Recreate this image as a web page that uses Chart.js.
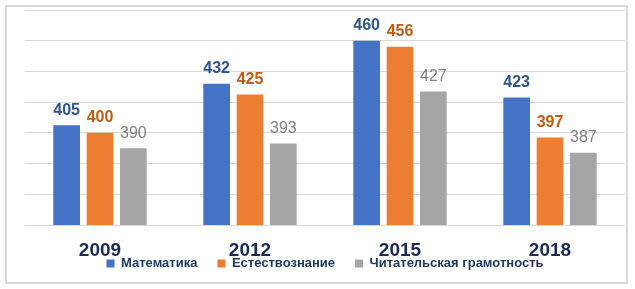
<!DOCTYPE html>
<html>
<head>
<meta charset="utf-8">
<script src="https://cdn.jsdelivr.net/npm/chart.js@4"></script>
<style>
    html, body { margin: 0; padding: 0; background: #fff; }
    #wrap { position: relative; width: 635px; height: 289px; }
    #frame { position: absolute; left: 5px; top: 5px; width: 619px; height: 275px; border: 2px solid #d9d9d9; }
    #pisaChart { position: absolute; left: 0; top: 0; }
</style>
</head>
<body>
<div id="wrap">
    <div id="frame"></div>
    <canvas id="pisaChart" width="635" height="289"></canvas>
</div>
<script>
const years = ['2009', '2012', '2015', '2018'];
const seriesNames = ['Математика', 'Естествознание', 'Читательская грамотность'];
const mathScores = [405, 432, 460, 423];
const scienceScores = [400, 425, 456, 397];
const readingScores = [390, 393, 427, 387];
const yMin = 340;
const yMax = 480;
const yStep = 20;

// values above each bar
const valueLabels = {
    id: 'valueLabels',
    afterDatasetsDraw(chart) {
        const ctx = chart.ctx;
        chart.data.datasets.forEach((ds, i) => {
            const meta = chart.getDatasetMeta(i);
            ctx.save();
            ctx.font = ds.labelFont;
            ctx.fillStyle = ds.labelColor;
            ctx.textAlign = 'center';
            ctx.textBaseline = 'bottom';
            meta.data.forEach((bar, j) => {
                ctx.fillText(String(ds.data[j]), bar.x, bar.y - 7);
            });
            ctx.restore();
        });
    }
};

const ctx = document.getElementById('pisaChart');
new Chart(ctx.getContext('2d'), {
    type: 'bar',
    data: {
        labels: years,
        datasets: [
            {
                label: seriesNames[0],
                data: mathScores,
                backgroundColor: '#4472c4',
                labelColor: '#2f5597',
                labelFont: 'bold 16px "Liberation Sans", Arial, sans-serif',
                barPercentage: 0.8,
                categoryPercentage: 0.667,
            },
            {
                label: seriesNames[1],
                data: scienceScores,
                backgroundColor: '#ed7d31',
                labelColor: '#c55a11',
                labelFont: 'bold 16px "Liberation Sans", Arial, sans-serif',
                barPercentage: 0.8,
                categoryPercentage: 0.667,
            },
            {
                label: seriesNames[2],
                data: readingScores,
                backgroundColor: '#a5a5a5',
                labelColor: '#7f7f7f',
                labelFont: '16px "Liberation Sans", Arial, sans-serif',
                barPercentage: 0.8,
                categoryPercentage: 0.667,
            }
        ]
    },
    options: {
        responsive: false,
        animation: false,
        layout: {
            padding: { top: 10, left: 25, right: 10, bottom: 9 }
        },
        plugins: {
            tooltip: { enabled: false },
            legend: {
                display: true,
                position: 'bottom',
                labels: {
                    boxWidth: 8,
                    boxHeight: 8,
                    padding: 20,
                    color: '#1f3864',
                    font: { family: '"Liberation Sans", Arial, sans-serif', size: 13, weight: 'bold' }
                }
            }
        },
        scales: {
            y: {
                min: yMin,
                max: yMax,
                ticks: { display: false, stepSize: yStep },
                grid: { color: '#d9d9d9', drawTicks: false },
                border: { display: false }
            },
            x: {
                grid: { display: false, drawTicks: false },
                border: { display: false },
                ticks: {
                    mirror: true,
                    padding: -37,
                    color: '#1b2a57',
                    font: { family: '"Liberation Sans", Arial, sans-serif', size: 19, weight: 'bold' }
                },
                afterFit: (scale) => { scale.height = 12; }
            }
        }
    },
    plugins: [valueLabels]
});
</script>
</body>
</html>
